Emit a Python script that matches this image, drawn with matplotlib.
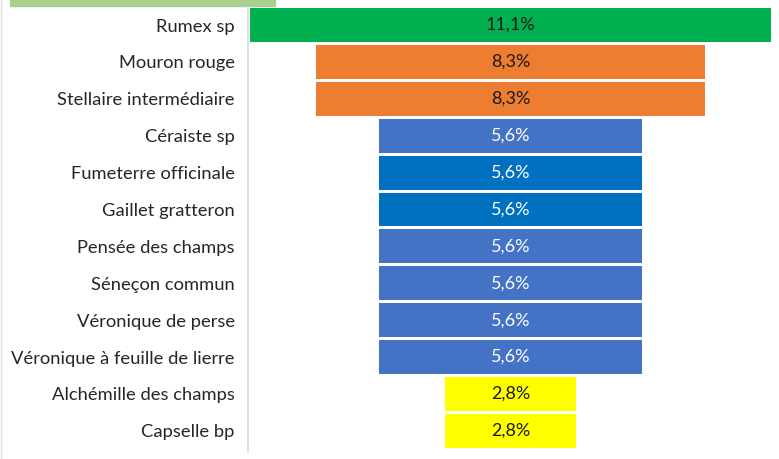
import matplotlib.pyplot as plt
from matplotlib.patches import Rectangle
from matplotlib.lines import Line2D

# data
species = ['Rumex sp', 'Mouron rouge', 'Stellaire intermédiaire', 'Céraiste sp',
           'Fumeterre officinale', 'Gaillet gratteron', 'Pensée des champs',
           'Séneçon commun', 'Véronique de perse', 'Véronique à feuille de lierre',
           'Alchémille des champs', 'Capselle bp']
values = [11.1, 8.3, 8.3, 5.6, 5.6, 5.6, 5.6, 5.6, 5.6, 5.6, 2.8, 2.8]
colors = ['#00B050', '#ED7D31', '#ED7D31', '#4472C4', '#0070C0', '#0070C0',
          '#4472C4', '#4472C4', '#4472C4', '#4472C4', '#FFFF00', '#FFFF00']
text_colors = ['#1a1a1a', '#1a1a1a', '#1a1a1a', 'white', 'white', 'white',
               'white', 'white', 'white', 'white', '#1a1a1a', '#1a1a1a']

plt.rcParams['font.family'] = ['Lato', 'DejaVu Sans']

W, H = 779, 459
fig = plt.figure(figsize=(W/100, H/100), dpi=100)

# axes placed in pixel terms
x0, x1 = 248, 779
y_top, y_bot = 5, 452
ax = fig.add_axes([x0/W, 1 - y_bot/H, (x1-x0)/W, (y_bot-y_top)/H])

pos = list(range(len(species)))
lefts = [-v/2 for v in values]
ax.barh(pos, values, left=lefts, height=0.92, color=colors)

for p, v, tc in zip(pos, values, text_colors):
    ax.text(0, p, f'{v:.1f}%'.replace('.', ','), ha='center', va='center',
            color=tc, fontsize=13)

ax.set_xlim(-5.6, 5.73)
ax.set_ylim((y_bot-25)/36.9, (y_top-25)/36.9)
ax.set_yticks(pos)
ax.set_yticklabels(species, fontsize=13.2, color='#262626')
ax.tick_params(axis='y', length=0, pad=9.5)
ax.set_xticks([])
for s in ['top', 'right', 'bottom']:
    ax.spines[s].set_visible(False)
ax.spines['left'].set_color('#D9D9D9')
ax.spines['left'].set_linewidth(1.2)

# cropped header strip and left border
fig.patches.append(Rectangle((10/W, 1 - 6/H), 265/W, 6/H, transform=fig.transFigure,
                             color='#A9D08E', zorder=0))
fig.lines.append(Line2D([1/W, 1/W], [0, 1], transform=fig.transFigure,
                        color='#E0E0E0', linewidth=1))

fig.savefig('out.png', dpi=100)
